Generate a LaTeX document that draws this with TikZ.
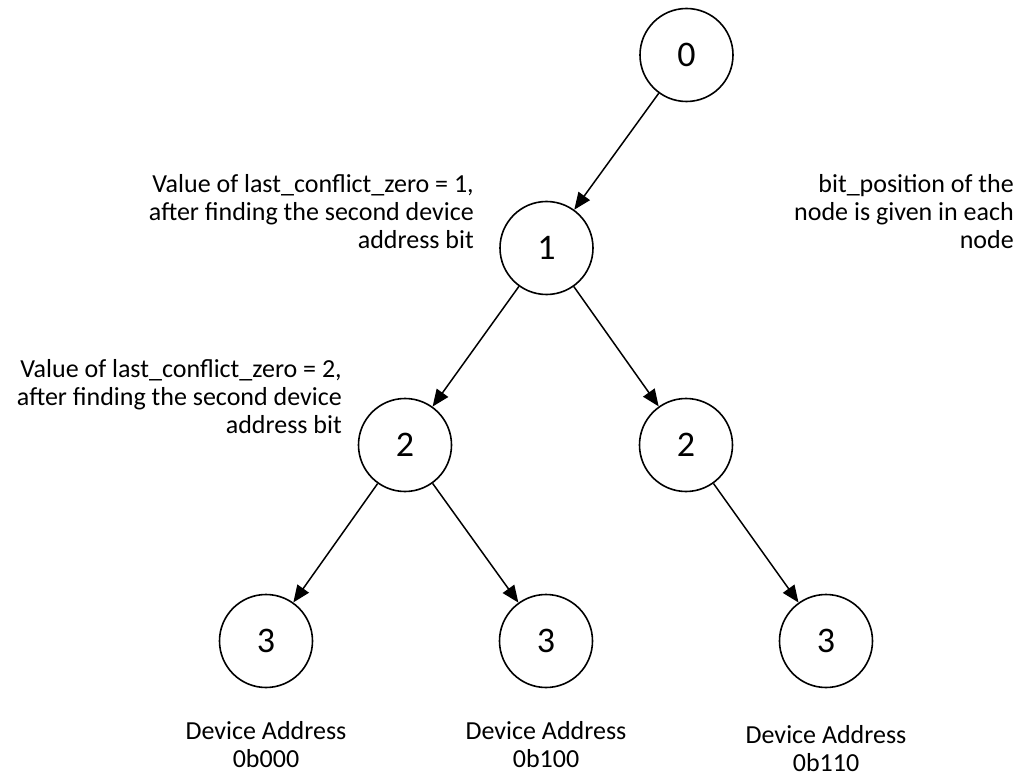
\documentclass[tikz,border=0pt]{standalone}
\usepackage{fontspec}
\setmainfont{Carlito}
\usetikzlibrary{arrows.meta}
\begin{document}
\begin{tikzpicture}[x=1pt,y=-1pt,
  tnode/.style={circle,draw,line width=1.6pt,minimum size=93pt,inner sep=0pt,font=\fontsize{36}{40}\selectfont},
  edge/.style={line width=1.5pt,-{Triangle[length=17pt,width=14pt]}},
  note/.style={font=\fontsize{26}{28}\selectfont,inner sep=0pt}]
\useasboundingbox (0,0) rectangle (1021,778);
\node[tnode] (n0) at (686.5,55) {0};
\node[tnode] (n1) at (546.5,248) {1};
\node[tnode] (n2a) at (405,445) {2};
\node[tnode] (n2b) at (686,445) {2};
\node[tnode] (n3a) at (266,641) {3};
\node[tnode] (n3b) at (546,641) {3};
\node[tnode] (n3c) at (826,641) {3};
\draw[edge] (n0) -- (n1);
\draw[edge] (n1) -- (n2a);
\draw[edge] (n1) -- (n2b);
\draw[edge] (n2a) -- (n3a);
\draw[edge] (n2a) -- (n3b);
\draw[edge] (n2b) -- (n3c);
\node[note,align=right,anchor=east] (t1) at (474,212) {Value of last\_conflict\_zero = 1,\\after finding the second device\\address bit};
\node[note,align=right,anchor=east] (t2) at (342,397) {Value of last\_conflict\_zero = 2,\\after finding the second device\\address bit};
\node[note,align=right,anchor=east] (t3) at (1014,212) {bit\_position of the\\node is given in each\\node};
\node[note,align=center] (d1) at (266,745) {Device Address\\0b000};
\node[note,align=center] (d2) at (546,745) {Device Address\\0b100};
\node[note,align=center] (d3) at (826,749) {Device Address\\0b110};
\end{tikzpicture}
\end{document}
